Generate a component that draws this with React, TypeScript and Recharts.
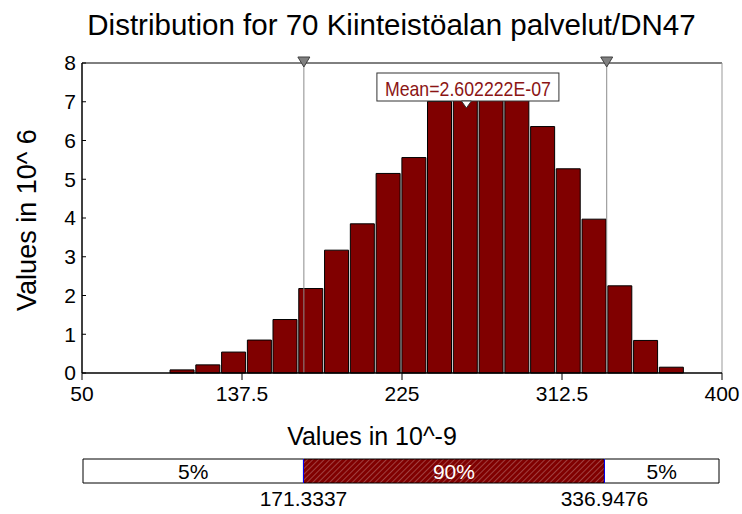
import React from 'react'
import {
  ComposedChart,
  BarChart,
  Bar,
  XAxis,
  YAxis,
  ReferenceLine,
  ReferenceDot,
} from 'recharts'

// bin centres (values in 10^-9) and bar heights (values in 10^6)
const binCenters = [
  104.6, 118.7, 132.8, 146.9, 160.9, 175.0, 189.1, 203.2, 217.3, 231.4,
  245.4, 259.5, 273.6, 287.7, 301.8, 315.8, 329.9, 344.0, 358.1, 372.2,
]
const binHeights = [
  0.08, 0.21, 0.54, 0.85, 1.38, 2.18, 3.17, 3.85, 5.15, 5.56,
  7.01, 7.18, 7.2, 7.12, 6.36, 5.27, 3.97, 2.25, 0.84, 0.15,
]
const xTicks = [50, 137.5, 225, 312.5, 400]
const yTicks = [0, 1, 2, 3, 4, 5, 6, 7, 8]
const xMin = 50
const xMax = 400
const lowerPct = 171.3337
const upperPct = 336.9476
const meanValue = 260.2222
const meanText = 'Mean=2.602222E-07'
const bandLabels = ['5%', '90%', '5%']

const FONT = "'Liberation Sans', Arial, sans-serif"
const MAROON = '#800000'

const data = binCenters.map((x, i) => ({ x, v: binHeights[i] }))
const bandData = [
  { name: 'band', low: lowerPct - xMin, mid: upperPct - lowerPct, high: xMax - upperPct },
]

const xTick = { fill: '#000', fontSize: 21, fontFamily: FONT }
const yTick = { fill: '#000', fontSize: 21, fontFamily: FONT }

function TopMarker(props: any) {
  const vb = props.viewBox || {}
  const x = vb.x ?? 0
  const y = vb.y ?? 0
  return (
    <polygon
      points={`${x - 6},${y - 6} ${x + 6},${y - 6} ${x},${y + 4}`}
      fill="#808080"
      stroke="#404040"
      strokeWidth={1}
    />
  )
}

function MeanBox(props: any) {
  const { cx, cy } = props
  const w = 182
  const h = 28
  const top = cy + 10
  const mid = cx + 1.5
  return (
    <g>
      <rect x={mid - w / 2} y={top} width={w} height={h} fill="#fff" stroke="#333" strokeWidth={1} />
      <text
        x={mid}
        y={top + 23}
        textAnchor="middle"
        fontSize={21}
        fontFamily={FONT}
        textLength={166}
        lengthAdjust="spacingAndGlyphs"
        fill="#8b1414"
      >
        {meanText}
      </text>
      <polygon
        points={`${cx - 5},${top + h} ${cx + 5},${top + h} ${cx},${top + h + 7}`}
        fill="#fff"
        stroke="#333"
        strokeWidth={1}
      />
    </g>
  )
}

function bandLabel(text: string, color: string, edgeValue?: number) {
  return (props: any) => {
    const { x, y, width, height } = props
    return (
      <g>
        <text
          x={x + width / 2}
          y={y + height / 2 + 8}
          textAnchor="middle"
          fontSize={21}
          fontFamily={FONT}
          fill={color}
        >
          {text}
        </text>
        {edgeValue !== undefined && (
          <g>
            <line x1={x} x2={x} y1={y} y2={y + height} stroke="#0000ff" strokeWidth={1} />
            <text
              x={x}
              y={y + height + 23}
              textAnchor="middle"
              fontSize={21}
              fontFamily={FONT}
              fill="#000"
            >
              {edgeValue.toFixed(4)}
            </text>
          </g>
        )}
      </g>
    )
  }
}

export default function App() {
  return (
    <div style={{ position: 'absolute', left: 0, top: 0, width: 742, height: 514, background: '#fff', fontFamily: FONT }}>
      <svg width={0} height={0} style={{ position: 'absolute' }}>
        <defs>
          <pattern id="hatch" width={4} height={4} patternUnits="userSpaceOnUse" patternTransform="rotate(45)">
            <rect width={4} height={4} fill={MAROON} />
            <line x1={0} y1={0} x2={0} y2={4} stroke="#c08080" strokeWidth={1} />
          </pattern>
        </defs>
      </svg>

      <div style={{ position: 'absolute', left: 0, top: 8, width: 783, textAlign: 'center', fontSize: 29.5, lineHeight: '34px', color: '#000', whiteSpace: 'nowrap' }}>
        Distribution for 70 Kiinteistöalan palvelut/DN47
      </div>
      <div
        style={{
          position: 'absolute',
          left: 27 - 120,
          top: 220 - 15,
          width: 240,
          height: 30,
          lineHeight: '30px',
          textAlign: 'center',
          fontSize: 27,
          transform: 'rotate(-90deg)',
          color: '#000',
          whiteSpace: 'nowrap',
        }}
      >
        Values in 10^ 6
      </div>
      <div style={{ position: 'absolute', left: 272, top: 421, width: 200, textAlign: 'center', fontSize: 25, lineHeight: '30px', color: '#000', whiteSpace: 'nowrap' }}>
        Values in 10^-9
      </div>

      <div style={{ position: 'absolute', left: 0, top: 0 }}>
        <ComposedChart width={742} height={430} data={data} margin={{ top: 63, right: 20, bottom: 27, left: 0 }}>
          <XAxis
            dataKey="x"
            type="number"
            domain={[xMin, xMax]}
            ticks={xTicks}
            allowDataOverflow
            tick={xTick}
            fontSize={21}
            tickSize={7}
            tickMargin={6}
            height={30}
            axisLine={{ stroke: '#000', strokeWidth: 1.5 }}
            tickLine={{ stroke: '#000' }}
          />
          <YAxis
            type="number"
            domain={[0, 8]}
            ticks={yTicks}
            width={82}
            tick={yTick}
            fontSize={21}
            tickSize={-4}
            tickMargin={10}
            axisLine={{ stroke: '#000', strokeWidth: 1.5 }}
            tickLine={{ stroke: '#000' }}
          />
          <Bar dataKey="v" fill={MAROON} stroke="#000" strokeWidth={1} barSize={24} isAnimationActive={false} />
          <ReferenceLine y={8} stroke="#000" strokeWidth={1} />
          <ReferenceLine x={xMax} stroke="#999" strokeWidth={1} />
          <ReferenceLine x={lowerPct} stroke="#8c8c8c" strokeWidth={1} label={<TopMarker />} />
          <ReferenceLine x={upperPct} stroke="#8c8c8c" strokeWidth={1} label={<TopMarker />} />
          <ReferenceDot x={meanValue} y={8} r={0} shape={<MeanBox />} />
        </ComposedChart>
      </div>

      <div style={{ position: 'absolute', left: 0, top: 455 }}>
        <BarChart
          width={742}
          height={59}
          data={bandData}
          layout="vertical"
          barCategoryGap={0}
          margin={{ top: 4, right: 23, bottom: 31, left: 83 }}
        >
          <XAxis type="number" domain={[0, xMax - xMin]} hide />
          <YAxis type="category" dataKey="name" hide />
          <Bar dataKey="low" stackId="b" fill="#fff" stroke="#000" strokeWidth={1} isAnimationActive={false} label={bandLabel(bandLabels[0], '#000')} />
          <Bar dataKey="mid" stackId="b" fill="url(#hatch)" stroke="#000" strokeWidth={1} isAnimationActive={false} label={bandLabel(bandLabels[1], '#fff', lowerPct)} />
          <Bar dataKey="high" stackId="b" fill="#fff" stroke="#000" strokeWidth={1} isAnimationActive={false} label={bandLabel(bandLabels[2], '#000', upperPct)} />
        </BarChart>
      </div>
    </div>
  )
}
